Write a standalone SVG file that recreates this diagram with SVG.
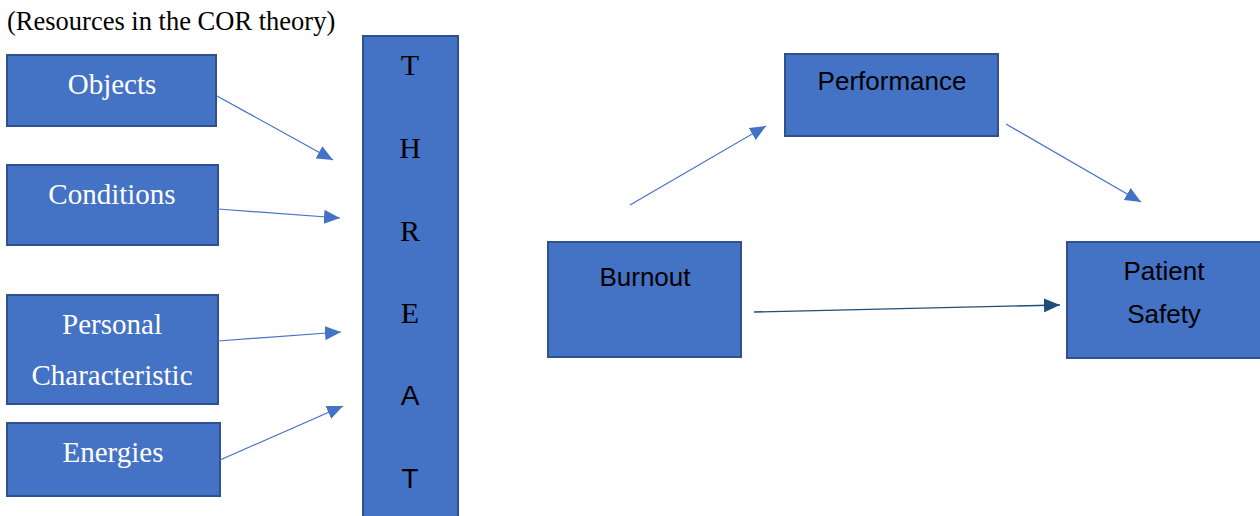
<svg xmlns="http://www.w3.org/2000/svg" width="1260" height="516" viewBox="0 0 1260 516">
<style>
.box{fill:#4472C4;stroke:#2F528F;stroke-width:2}
.st{font-family:"Liberation Serif",serif;font-size:29px;fill:#fff;text-anchor:middle}
.ss{font-family:"Liberation Sans",Arial,sans-serif;font-size:26px;fill:#000;text-anchor:middle}
.ls{font-family:"Liberation Serif",serif;font-size:30px;fill:#000;text-anchor:middle}
.lsa{font-family:"Liberation Sans",Arial,sans-serif;font-size:28px;fill:#000;text-anchor:middle}
.c{stroke:#4472C4;stroke-width:1.2;fill:none;marker-end:url(#ah)}
.cd{stroke:#1F4E79;stroke-width:1.3;fill:none;marker-end:url(#ahd)}
</style>
<defs>
<marker id="ah" markerUnits="userSpaceOnUse" markerWidth="18" markerHeight="14" refX="16" refY="7" orient="auto">
<path d="M0,0 L16,7 L0,14 Z" fill="#4472C4"/>
</marker>
<marker id="ahd" markerUnits="userSpaceOnUse" markerWidth="18" markerHeight="14" refX="16" refY="7" orient="auto">
<path d="M0,0 L16,7 L0,14 Z" fill="#1F4E79"/>
</marker>
</defs>
<text x="7" y="30" font-family="Liberation Serif,serif" font-size="26.5" fill="#000">(Resources in the COR theory)</text>
<g id="objects"><rect class="box" x="7" y="55" width="209" height="71"/><text class="st" x="112" y="94">Objects</text></g>
<g id="conditions"><rect class="box" x="7" y="165" width="211" height="80"/><text class="st" x="112" y="204">Conditions</text></g>
<g id="personal"><rect class="box" x="7" y="295" width="211" height="109"/><text class="st" x="112" y="334">Personal</text><text class="st" x="112" y="385">Characteristic</text></g>
<g id="energies"><rect class="box" x="7" y="423" width="213" height="73"/><text class="st" x="113" y="462">Energies</text></g>
<g id="threat"><rect class="box" x="363" y="36" width="95" height="490"/>
<text class="ls" x="410" y="75">T</text>
<text class="ls" x="410" y="158">H</text>
<text class="ls" x="410" y="241">R</text>
<text class="ls" x="410" y="323">E</text>
<text class="lsa" x="410" y="405">A</text>
<text class="lsa" x="410" y="488">T</text>
</g>
<g id="performance"><rect class="box" x="785" y="54" width="213" height="82"/><text class="ss" x="892" y="90">Performance</text></g>
<g id="burnout"><rect class="box" x="548" y="242" width="193" height="115"/><text class="ss" x="645" y="286">Burnout</text></g>
<g id="patient"><rect class="box" x="1067" y="242" width="195" height="116"/><text class="ss" x="1164" y="280">Patient</text><text class="ss" x="1164" y="323">Safety</text></g>
<g id="connectors">
<line class="c" x1="217" y1="96" x2="333" y2="160"/>
<line class="c" x1="218" y1="209" x2="340" y2="218"/>
<line class="c" x1="218" y1="341" x2="341" y2="332"/>
<line class="c" x1="220" y1="460" x2="343" y2="406"/>
<line class="c" x1="630" y1="205" x2="766" y2="126"/>
<line class="c" x1="1006" y1="124" x2="1141" y2="202"/>
<line class="cd" x1="754" y1="312" x2="1060" y2="305"/>
</g>
</svg>
